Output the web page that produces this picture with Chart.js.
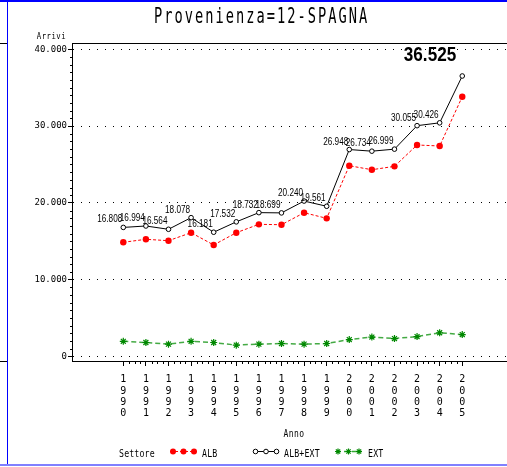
<!DOCTYPE html>
<html>
<head>
<meta charset="utf-8">
<script src="https://cdn.jsdelivr.net/npm/chart.js@4/dist/chart.umd.min.js"></script>
<style>
  body { margin: 0; background: #fff; }
  #wrap { position: relative; width: 507px; height: 467px; overflow: hidden; }
  #wrap canvas { position: absolute; left: 0; top: 0; }
  .ln { position: absolute; }
</style>
</head>
<body>
<div id="wrap">
  <canvas id="chart" width="507" height="467"></canvas>
  <div class="ln" style="left:0;top:0;width:507px;height:2px;background:#0000ff"></div>
  <div class="ln" style="left:7px;top:0;width:1px;height:465px;background:#0000ff"></div>
  <div class="ln" style="left:0;top:464px;width:507px;height:2px;background:#8080ff"></div>
  <div class="ln" style="left:0;top:43px;width:7px;height:1px;background:#000"></div>
  <div class="ln" style="left:0;top:361px;width:7px;height:1px;background:#000"></div>
</div>
<script>
// values
const years = [1990, 1991, 1992, 1993, 1994, 1995, 1996, 1997, 1998, 1999, 2000, 2001, 2002, 2003, 2004, 2005];
const albExtValues = [16808, 16994, 16564, 18078, 16181, 17532, 18732, 18699, 20240, 19561, 26948, 26734, 26999, 30055, 30426, 36525];
const albValues = [14870, 15260, 15080, 16120, 14520, 16120, 17210, 17160, 18720, 17990, 24840, 24320, 24760, 27540, 27410, 33830];
const extValues = [1980, 1820, 1610, 1980, 1820, 1480, 1610, 1690, 1610, 1690, 2210, 2530, 2340, 2600, 3090, 2860];
const yTicks = [0, 10000, 20000, 30000, 40000];

const MONO = '"DejaVu Sans Mono", "Liberation Mono", monospace';
const SANS = '"Liberation Sans", Arial, sans-serif';

const toPoints = (vals) => years.map((yr, i) => ({ x: yr, y: vals[i] }));
const fmt = (v) => String(v).replace(/\B(?=(\d{3})+(?!\d))/g, ".");

// draw text in the SAS hardware-font look: fixed pitch, narrow glyphs
function sasText(ctx, str, x0, baseline, size, pitch, sx) {
  ctx.save();
  ctx.font = size + "px " + MONO;
  ctx.fillStyle = "#000";
  ctx.textAlign = "center";
  ctx.textBaseline = "alphabetic";
  for (let i = 0; i < str.length; i++) {
    ctx.save();
    ctx.translate(x0 + pitch * (i + 0.5), baseline);
    ctx.scale(sx, 1);
    ctx.fillText(str[i], 0, 0);
    ctx.restore();
  }
  ctx.restore();
}

// condensed text, right aligned at x
function narrowText(ctx, str, x, y, font, sx) {
  ctx.save();
  ctx.font = font;
  ctx.fillStyle = "#000";
  ctx.textAlign = "right";
  ctx.textBaseline = "alphabetic";
  ctx.translate(x, y);
  ctx.scale(sx, 1);
  ctx.fillText(str, 0, 0);
  ctx.restore();
}

function star(ctx, x, y, r) {
  ctx.beginPath();
  for (let k = 0; k < 4; k++) {
    const a = (k * Math.PI) / 4;
    ctx.moveTo(x - r * Math.cos(a), y - r * Math.sin(a));
    ctx.lineTo(x + r * Math.cos(a), y + r * Math.sin(a));
  }
  ctx.stroke();
}

const extras = {
  id: "extras",
  afterDraw(chart) {
    const ctx = chart.ctx;
    const area = chart.chartArea;
    const xs = chart.scales.x;
    const ys = chart.scales.y;

    // top frame line
    ctx.save();
    ctx.strokeStyle = "#000";
    ctx.lineWidth = 1;
    ctx.beginPath();
    ctx.moveTo(area.left, Math.round(area.top) + 0.5);
    ctx.lineTo(area.right, Math.round(area.top) + 0.5);
    ctx.stroke();

    // minor ticks
    for (let v = 1000; v < 40000; v += 1000) {
      if (v % 10000 === 0) continue;
      const py = Math.round(ys.getPixelForValue(v)) + 0.5;
      ctx.beginPath();
      ctx.moveTo(area.left - 2, py);
      ctx.lineTo(area.left, py);
      ctx.stroke();
    }
    for (let v = years[0]; v < years[years.length - 1]; v += 0.25) {
      if (Number.isInteger(v)) continue;
      const px = Math.round(xs.getPixelForValue(v)) + 0.5;
      ctx.beginPath();
      ctx.moveTo(px, area.bottom);
      ctx.lineTo(px, area.bottom + 3);
      ctx.stroke();
    }
    ctx.restore();

    // value labels on ALB+EXT
    const meta = chart.getDatasetMeta(1);
    meta.data.forEach((pt, i) => {
      if (i === meta.data.length - 1) {
        narrowText(ctx, fmt(albExtValues[i]), pt.x - 6, pt.y - 15, "bold 19.5px " + SANS, 0.88);
      } else {
        narrowText(ctx, fmt(albExtValues[i]), pt.x - 1, pt.y - 5, "10px " + SANS, 0.82);
      }
    });

    // texts
    sasText(ctx, "Provenienza=12-SPAGNA", 152.9, 22.7, 21, 10.25, 0.65);
    sasText(ctx, "Arrivi", 36.5, 39, 8.6, 4.9, 0.85);
    const mid = (xs.getPixelForValue(years[0]) + xs.getPixelForValue(years[years.length - 1])) / 2;
    sasText(ctx, "Anno", mid + 1 - 2 * 5.2, 437, 10, 5.2, 0.8);

    // legend
    const ly = 451.5;
    sasText(ctx, "Settore", 119, 456.5, 11, 5.1, 0.75);
    ctx.save();
    ctx.lineWidth = 1;
    ctx.strokeStyle = "#ff0000";
    ctx.setLineDash([3, 2]);
    ctx.beginPath(); ctx.moveTo(170, ly); ctx.lineTo(197, ly); ctx.stroke();
    ctx.setLineDash([]);
    ctx.fillStyle = "#ff0000";
    [173, 183.5, 194].forEach((x) => { ctx.beginPath(); ctx.arc(x, ly, 3, 0, Math.PI * 2); ctx.fill(); });
    ctx.strokeStyle = "#000";
    ctx.beginPath(); ctx.moveTo(253, ly); ctx.lineTo(279, ly); ctx.stroke();
    ctx.fillStyle = "#fff";
    [255.5, 266, 276.5].forEach((x) => { ctx.beginPath(); ctx.arc(x, ly, 2.3, 0, Math.PI * 2); ctx.fill(); ctx.stroke(); });
    ctx.strokeStyle = "#33aa33";
    ctx.setLineDash([5, 3]);
    ctx.lineWidth = 1.5;
    ctx.beginPath(); ctx.moveTo(336, ly); ctx.lineTo(362, ly); ctx.stroke();
    ctx.setLineDash([]);
    ctx.strokeStyle = "#008800";
    ctx.lineWidth = 1.2;
    [338, 348.5, 359].forEach((x) => star(ctx, x, ly, 3));
    ctx.restore();
    sasText(ctx, "ALB", 202, 456.5, 11, 5.1, 0.75);
    sasText(ctx, "ALB+EXT", 284, 456.5, 11, 5.1, 0.75);
    sasText(ctx, "EXT", 368, 456.5, 11, 5.1, 0.75);
  },
};

const data = {
  datasets: [
    {
      label: "ALB",
      data: toPoints(albValues),
      borderColor: "#ff0000",
      backgroundColor: "#ff0000",
      borderWidth: 1,
      borderDash: [3, 2],
      pointRadius: 3.2,
      pointBorderWidth: 0,
      pointBackgroundColor: "#ff0000",
      tension: 0,
    },
    {
      label: "ALB+EXT",
      data: toPoints(albExtValues),
      borderColor: "#000000",
      backgroundColor: "#ffffff",
      borderWidth: 1,
      pointRadius: 2.3,
      pointBorderWidth: 1,
      pointBorderColor: "#000000",
      pointBackgroundColor: "#ffffff",
      tension: 0,
    },
    {
      label: "EXT",
      data: toPoints(extValues),
      borderColor: "#44aa44",
      borderWidth: 1.5,
      borderDash: [5, 3],
      pointStyle: "star",
      pointRadius: 3.5,
      pointBorderWidth: 1.2,
      pointBorderColor: "#008800",
      pointBackgroundColor: "#008800",
      tension: 0,
    },
  ],
};

const config = {
  type: "line",
  data: data,
  options: {
    responsive: false,
    animation: false,
    devicePixelRatio: 1,
    layout: { autoPadding: false, padding: { top: 43, bottom: 46, left: 0, right: 0 } },
    plugins: {
      legend: { display: false },
      title: { display: false },
      tooltip: { enabled: false },
    },
    scales: {
      x: {
        type: "linear",
        min: 1987.73,
        max: 2006.98,
        afterBuildTicks: (s) => { s.ticks = years.map((v) => ({ value: v })); },
        afterFit: (s) => { s.height = 60; s.paddingLeft = 0; s.paddingRight = 0; },
        grid: { drawOnChartArea: false, drawTicks: true, tickLength: 5, color: "#000" },
        border: { color: "#000", width: 1 },
        ticks: {
          autoSkip: false,
          maxRotation: 0,
          padding: 8,
          color: "#000",
          font: { family: MONO, size: 10, lineHeight: "11.3px" },
          callback: (v) => String(v).split(""),
        },
      },
      y: {
        min: -586,
        max: 40820,
        afterBuildTicks: (s) => { s.ticks = yTicks.map((v) => ({ value: v })); },
        afterFit: (s) => { s.width = 72; },
        grid: { color: "#000", tickLength: 4, tickColor: "#000", tickBorderDash: [] },
        border: { color: "#000", width: 1, dash: [1, 7] },
        ticks: {
          padding: 1,
          color: "#000",
          font: { family: MONO, size: 9 },
          callback: (v) => fmt(v),
        },
      },
    },
  },
  plugins: [extras],
};

const ctx = document.getElementById("chart").getContext("2d");
const myChart = new Chart(ctx, config);
</script>
</body>
</html>
